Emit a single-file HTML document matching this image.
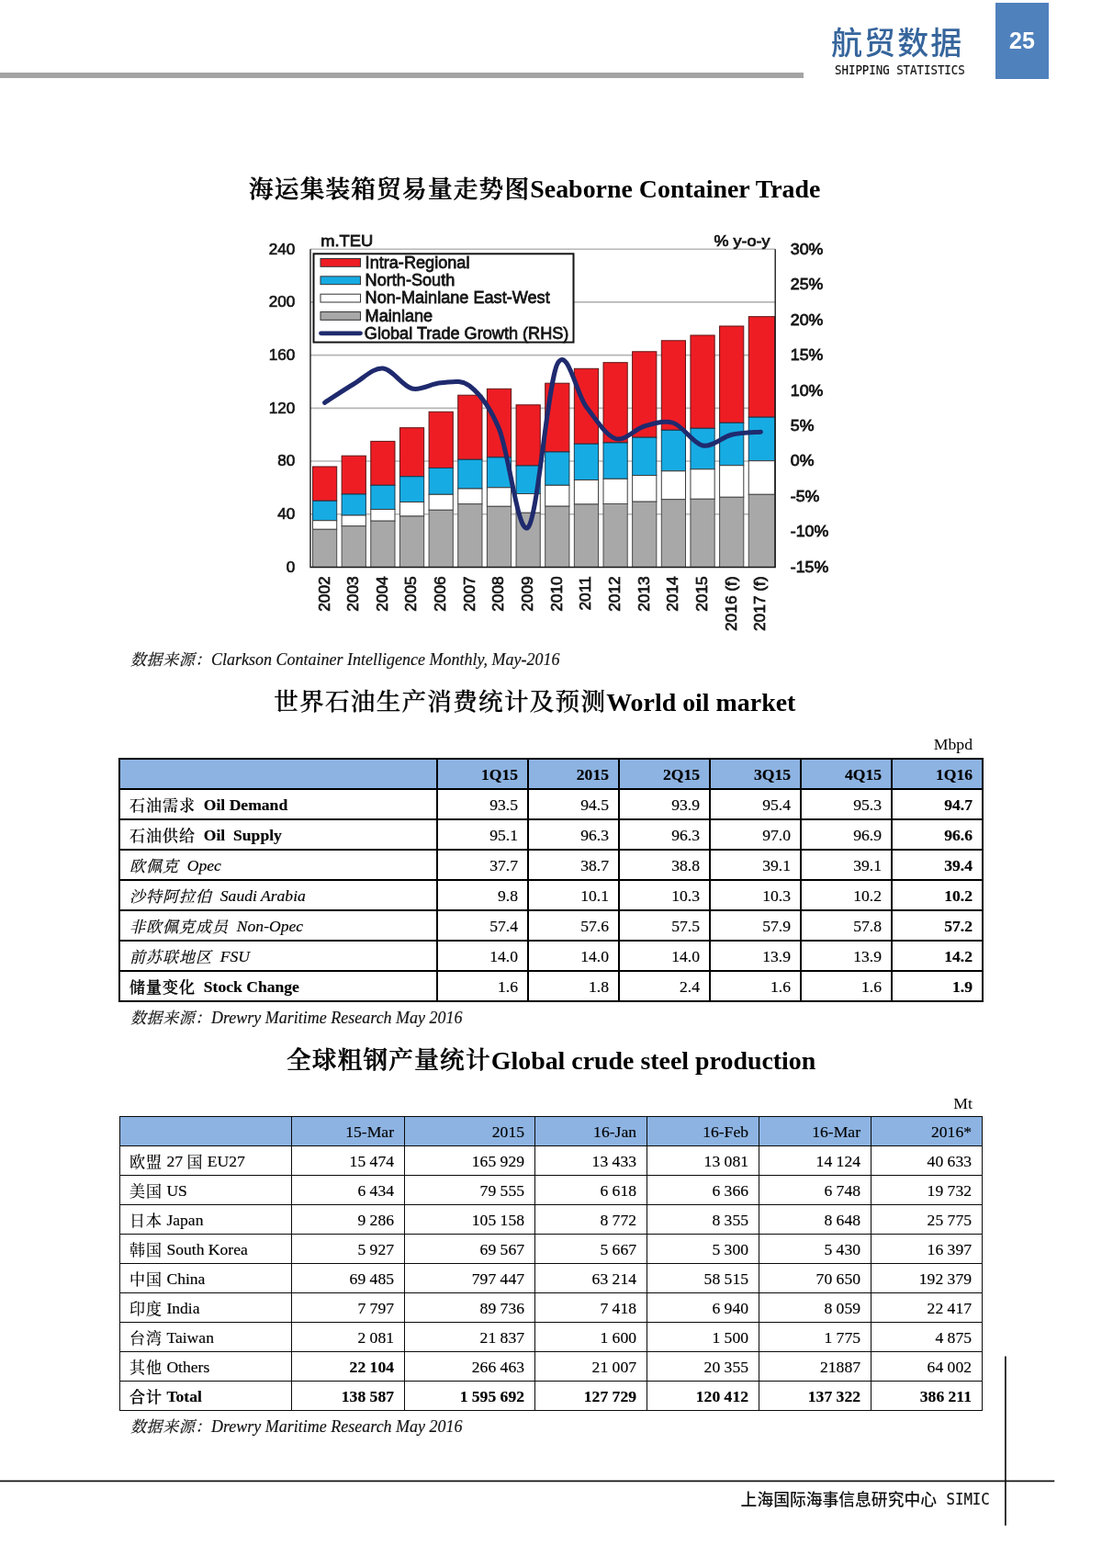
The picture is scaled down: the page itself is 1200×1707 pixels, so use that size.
<!DOCTYPE html>
<html lang="zh-CN">
<head>
<meta charset="utf-8">
<title>航贸数据 SHIPPING STATISTICS</title>
<style>
html,body{margin:0;padding:0;background:#fff;}
body{width:1200px;height:1707px;position:relative;overflow:hidden;color:#000;
  font-family:"Liberation Serif","Noto Serif CJK SC",serif;}
.abs{position:absolute;white-space:nowrap;}
/* header */
#hbar{left:0;top:79px;width:875px;height:6px;background:#a4a4a4;}
#hcn{left:905px;top:24.5px;font:500 34px/44px "Liberation Sans","Noto Sans CJK SC",sans-serif;color:#36659c;letter-spacing:2.1px;}
#hen{left:909.2px;top:65.6px;font:14.9px/20px "DejaVu Sans Mono","Liberation Mono",monospace;color:#111;transform:scaleX(.832);transform-origin:0 0;-webkit-text-stroke:0.2px #111;}
#pgbox{left:1084px;top:3px;width:58px;height:83px;background:#4f81bd;}
#pgnum{left:1084px;top:29px;width:58px;text-align:center;font:bold 25px/30px "Liberation Sans",sans-serif;color:#fff;}
/* titles */
.title{font-weight:bold;font-size:27.9px;line-height:36px;
  font-family:"Liberation Serif","Noto Serif CJK SC",serif;}
.title .cn{font-weight:500;font-size:26.6px;letter-spacing:1.25px;position:relative;top:-1.2px;line-height:1;-webkit-text-stroke:0.3px #000;}
.title .cn.fb{font-weight:500;-webkit-text-stroke:0.65px #000;}
.src{left:142px;font-style:italic;font-size:18px;line-height:24px;color:#111;-webkit-text-stroke:0.15px #111;}
.src span{font-size:17px;letter-spacing:0.6px;line-height:1;}
.unit{font-size:17.7px;line-height:24px;text-align:right;width:200px;left:859px;}
/* tables */
table{position:absolute;border-collapse:collapse;table-layout:fixed;left:129px;}
td,th{padding:0 10px 0 0;text-align:right;font-weight:normal;font-size:17.6px;white-space:nowrap;overflow:hidden;-webkit-text-stroke:0.15px #000;}
.c{font-weight:500;}
.z{font-size:17px;letter-spacing:1px;position:relative;top:0.6px;line-height:1;}
.fb{-webkit-text-stroke:0.3px #000;}
td:first-child,th:first-child{text-align:left;padding:0 0 0 10px;}
#t1{top:825px;width:941px;}
#t1 td,#t1 th{border:2px solid #000;height:29px;line-height:29px;padding-top:2px;}
#t1 th{background:#8db3e2;font-weight:bold;}
#t1 td:last-child{font-weight:bold;}
#t1 tr.b td{font-weight:bold;}
#t1 tr.b td.n{font-weight:normal;}
#t1 tr.b td:last-child{font-weight:bold;}
#t1 tr.i td:first-child{font-style:italic;}
#t2{top:1215px;width:940px;left:130px;}
#t2 td,#t2 th{padding-right:11px;}
#t2 td,#t2 th{border:1px solid #0a0a0a;height:30px;line-height:30px;padding-top:1px;}
#t2 th{background:#8db3e2;}
#t2 .bb, #t2 tr.bb td{font-weight:bold;}
/* footer */
#flines{left:0;top:1470px;}
#ftxt{left:806.6px;top:1620.6px;font:500 17.8px/24px "Liberation Sans","Noto Sans CJK SC",sans-serif;color:#111;}
#ftxt span{display:inline-block;position:relative;top:-1px;left:1.2px;font:17.1px/24px "DejaVu Sans Mono","Liberation Mono",monospace;transform:scaleX(.92);transform-origin:0 50%;white-space:pre;-webkit-text-stroke:0.2px #111;}
</style>
</head>
<body>
<div class="abs" id="hbar"></div>
<div class="abs" id="hcn">航贸数据</div>
<div class="abs" id="hen">SHIPPING STATISTICS</div>
<div class="abs" id="pgbox"></div>
<div class="abs" id="pgnum">25</div>

<div class="abs title" style="left:271px;top:188px"><span class="cn fb" style="top:0.1px">海运集装箱贸易量走势图</span>Seaborne Container Trade</div>

<!--CHART-->
<svg class="abs" id="chart" style="left:240px;top:240px" width="700" height="460" viewBox="0 0 700 460" font-family="Liberation Sans, sans-serif">
<g stroke="#b6b6b6" stroke-width="1.6">
<line x1="98.0" y1="319.78" x2="604.2" y2="319.78"/>
<line x1="98.0" y1="262.07" x2="604.2" y2="262.07"/>
<line x1="98.0" y1="204.35" x2="604.2" y2="204.35"/>
<line x1="98.0" y1="146.63" x2="604.2" y2="146.63"/>
<line x1="98.0" y1="88.92" x2="604.2" y2="88.92"/>
<line x1="98.0" y1="31.2" x2="604.2" y2="31.2"/>
</g>
<g stroke-width="1">
<rect x="100.5" y="268" width="26.2" height="37.3" fill="#ee1d24" stroke="#5e1515"/>
<rect x="100.5" y="305.3" width="26.2" height="21.4" fill="#17abe3" stroke="#123c52"/>
<rect x="100.5" y="326.7" width="26.2" height="9.6" fill="#ffffff" stroke="#3c3c3c"/>
<rect x="100.5" y="336.3" width="26.2" height="41.2" fill="#a8a8a8" stroke="#4a4a4a"/>
<rect x="132.15" y="256.2" width="26.2" height="41.8" fill="#ee1d24" stroke="#5e1515"/>
<rect x="132.15" y="298" width="26.2" height="23" fill="#17abe3" stroke="#123c52"/>
<rect x="132.15" y="321" width="26.2" height="11.7" fill="#ffffff" stroke="#3c3c3c"/>
<rect x="132.15" y="332.7" width="26.2" height="44.8" fill="#a8a8a8" stroke="#4a4a4a"/>
<rect x="163.8" y="240.4" width="26.2" height="47.9" fill="#ee1d24" stroke="#5e1515"/>
<rect x="163.8" y="288.3" width="26.2" height="26.2" fill="#17abe3" stroke="#123c52"/>
<rect x="163.8" y="314.5" width="26.2" height="12.7" fill="#ffffff" stroke="#3c3c3c"/>
<rect x="163.8" y="327.2" width="26.2" height="50.3" fill="#a8a8a8" stroke="#4a4a4a"/>
<rect x="195.45" y="225.7" width="26.2" height="53.1" fill="#ee1d24" stroke="#5e1515"/>
<rect x="195.45" y="278.8" width="26.2" height="27.7" fill="#17abe3" stroke="#123c52"/>
<rect x="195.45" y="306.5" width="26.2" height="15.5" fill="#ffffff" stroke="#3c3c3c"/>
<rect x="195.45" y="322" width="26.2" height="55.5" fill="#a8a8a8" stroke="#4a4a4a"/>
<rect x="227.1" y="208.3" width="26.2" height="61.2" fill="#ee1d24" stroke="#5e1515"/>
<rect x="227.1" y="269.5" width="26.2" height="28.8" fill="#17abe3" stroke="#123c52"/>
<rect x="227.1" y="298.3" width="26.2" height="17.0" fill="#ffffff" stroke="#3c3c3c"/>
<rect x="227.1" y="315.3" width="26.2" height="62.2" fill="#a8a8a8" stroke="#4a4a4a"/>
<rect x="258.75" y="190.2" width="26.2" height="70.1" fill="#ee1d24" stroke="#5e1515"/>
<rect x="258.75" y="260.3" width="26.2" height="31.7" fill="#17abe3" stroke="#123c52"/>
<rect x="258.75" y="292" width="26.2" height="16.7" fill="#ffffff" stroke="#3c3c3c"/>
<rect x="258.75" y="308.7" width="26.2" height="68.8" fill="#a8a8a8" stroke="#4a4a4a"/>
<rect x="290.4" y="183.3" width="26.2" height="74.6" fill="#ee1d24" stroke="#5e1515"/>
<rect x="290.4" y="257.9" width="26.2" height="32.9" fill="#17abe3" stroke="#123c52"/>
<rect x="290.4" y="290.8" width="26.2" height="20.5" fill="#ffffff" stroke="#3c3c3c"/>
<rect x="290.4" y="311.3" width="26.2" height="66.2" fill="#a8a8a8" stroke="#4a4a4a"/>
<rect x="322.05" y="200.8" width="26.2" height="66.2" fill="#ee1d24" stroke="#5e1515"/>
<rect x="322.05" y="267" width="26.2" height="30.5" fill="#17abe3" stroke="#123c52"/>
<rect x="322.05" y="297.5" width="26.2" height="20.8" fill="#ffffff" stroke="#3c3c3c"/>
<rect x="322.05" y="318.3" width="26.2" height="59.2" fill="#a8a8a8" stroke="#4a4a4a"/>
<rect x="353.7" y="177.2" width="26.2" height="74.8" fill="#ee1d24" stroke="#5e1515"/>
<rect x="353.7" y="252" width="26.2" height="36.3" fill="#17abe3" stroke="#123c52"/>
<rect x="353.7" y="288.3" width="26.2" height="22.9" fill="#ffffff" stroke="#3c3c3c"/>
<rect x="353.7" y="311.2" width="26.2" height="66.3" fill="#a8a8a8" stroke="#4a4a4a"/>
<rect x="385.35" y="161.3" width="26.2" height="82.0" fill="#ee1d24" stroke="#5e1515"/>
<rect x="385.35" y="243.3" width="26.2" height="39.2" fill="#17abe3" stroke="#123c52"/>
<rect x="385.35" y="282.5" width="26.2" height="26.5" fill="#ffffff" stroke="#3c3c3c"/>
<rect x="385.35" y="309" width="26.2" height="68.5" fill="#a8a8a8" stroke="#4a4a4a"/>
<rect x="417.0" y="154.7" width="26.2" height="87.3" fill="#ee1d24" stroke="#5e1515"/>
<rect x="417.0" y="242" width="26.2" height="39.3" fill="#17abe3" stroke="#123c52"/>
<rect x="417.0" y="281.3" width="26.2" height="27.2" fill="#ffffff" stroke="#3c3c3c"/>
<rect x="417.0" y="308.5" width="26.2" height="69.0" fill="#a8a8a8" stroke="#4a4a4a"/>
<rect x="448.65" y="142.8" width="26.2" height="93.4" fill="#ee1d24" stroke="#5e1515"/>
<rect x="448.65" y="236.2" width="26.2" height="41.3" fill="#17abe3" stroke="#123c52"/>
<rect x="448.65" y="277.5" width="26.2" height="28.7" fill="#ffffff" stroke="#3c3c3c"/>
<rect x="448.65" y="306.2" width="26.2" height="71.3" fill="#a8a8a8" stroke="#4a4a4a"/>
<rect x="480.3" y="130.8" width="26.2" height="97.5" fill="#ee1d24" stroke="#5e1515"/>
<rect x="480.3" y="228.3" width="26.2" height="44.5" fill="#17abe3" stroke="#123c52"/>
<rect x="480.3" y="272.8" width="26.2" height="30.9" fill="#ffffff" stroke="#3c3c3c"/>
<rect x="480.3" y="303.7" width="26.2" height="73.8" fill="#a8a8a8" stroke="#4a4a4a"/>
<rect x="511.95" y="125" width="26.2" height="101.3" fill="#ee1d24" stroke="#5e1515"/>
<rect x="511.95" y="226.3" width="26.2" height="44.5" fill="#17abe3" stroke="#123c52"/>
<rect x="511.95" y="270.8" width="26.2" height="32.5" fill="#ffffff" stroke="#3c3c3c"/>
<rect x="511.95" y="303.3" width="26.2" height="74.2" fill="#a8a8a8" stroke="#4a4a4a"/>
<rect x="543.6" y="115" width="26.2" height="105.3" fill="#ee1d24" stroke="#5e1515"/>
<rect x="543.6" y="220.3" width="26.2" height="46.4" fill="#17abe3" stroke="#123c52"/>
<rect x="543.6" y="266.7" width="26.2" height="34.6" fill="#ffffff" stroke="#3c3c3c"/>
<rect x="543.6" y="301.3" width="26.2" height="76.2" fill="#a8a8a8" stroke="#4a4a4a"/>
<rect x="575.25" y="104.7" width="28.35" height="109.5" fill="#ee1d24" stroke="#5e1515"/>
<rect x="575.25" y="214.2" width="28.35" height="47.5" fill="#17abe3" stroke="#123c52"/>
<rect x="575.25" y="261.7" width="28.35" height="36.6" fill="#ffffff" stroke="#3c3c3c"/>
<rect x="575.25" y="298.3" width="28.35" height="79.2" fill="#a8a8a8" stroke="#4a4a4a"/>
</g>
<path d="M98.0 31.2V377.5H604.2V31.2" fill="none" stroke="#151515" stroke-width="1.35"/>
<path d="M113.6 198.3C118.88 194.92 134.7 184.22 145.25 178C155.8 171.78 166.35 160.17 176.9 161C187.45 161.83 198.0 180.37 208.55 183C219.1 185.63 229.65 177.22 240.2 176.8C250.75 176.38 261.3 172.13 271.85 180.5C282.4 188.87 292.95 201.42 303.5 227C314.05 252.58 324.6 345.75 335.15 334C345.7 322.25 356.25 178.33 366.8 156.5C377.35 134.67 387.9 189.5 398.45 203C409.0 216.5 419.55 234.0 430.1 237.5C440.65 241.0 451.2 226.83 461.75 224C472.3 221.17 482.85 217.0 493.4 220.5C503.95 224.0 514.5 242.87 525.05 245C535.6 247.13 546.15 235.77 556.7 233.3C567.25 230.83 583.08 230.72 588.35 230.2" fill="none" stroke="#1f2a6e" stroke-width="5" stroke-linecap="round" stroke-linejoin="round"/>
<rect x="101.5" y="36.3" width="283.0" height="96.3" fill="#fff" stroke="#151515" stroke-width="2"/>
<g fill="#141414" stroke="#141414">
<rect x="109" y="41.5" width="43.5" height="8.8" fill="#ee1d24" stroke="#333" stroke-width="1"/>
<text transform="translate(157.6 51.6) scale(1.03 1)" font-size="17.6" stroke-width="0.75">Intra-Regional</text>
<rect x="109" y="60.85" width="43.5" height="8.8" fill="#17abe3" stroke="#333" stroke-width="1"/>
<text transform="translate(157.6 70.95) scale(1.03 1)" font-size="17.6" stroke-width="0.75">North-South</text>
<rect x="109" y="80.2" width="43.5" height="8.8" fill="#ffffff" stroke="#333" stroke-width="1"/>
<text transform="translate(157.6 90.3) scale(1.03 1)" font-size="17.6" stroke-width="0.75">Non-Mainlane East-West</text>
<rect x="109" y="99.55" width="43.5" height="8.8" fill="#a8a8a8" stroke="#333" stroke-width="1"/>
<text transform="translate(157.6 109.65) scale(1.03 1)" font-size="17.6" stroke-width="0.75">Mainlane</text>
<line x1="109.5" y1="122.8" x2="152.5" y2="122.8" stroke="#1f2a6e" stroke-width="4.8" stroke-linecap="round"/>
<text transform="translate(156.8 129.0) scale(1.03 1)" font-size="17.6" stroke-width="0.75">Global Trade Growth (RHS)</text>
<text transform="translate(81.3 382.9) scale(1.1 1)" font-size="15.6" text-anchor="end" stroke-width="0.6">0</text>
<text transform="translate(81.3 325.18) scale(1.1 1)" font-size="15.6" text-anchor="end" stroke-width="0.6">40</text>
<text transform="translate(81.3 267.47) scale(1.1 1)" font-size="15.6" text-anchor="end" stroke-width="0.6">80</text>
<text transform="translate(81.3 209.75) scale(1.1 1)" font-size="15.6" text-anchor="end" stroke-width="0.6">120</text>
<text transform="translate(81.3 152.03) scale(1.1 1)" font-size="15.6" text-anchor="end" stroke-width="0.6">160</text>
<text transform="translate(81.3 94.32) scale(1.1 1)" font-size="15.6" text-anchor="end" stroke-width="0.6">200</text>
<text transform="translate(81.3 36.6) scale(1.1 1)" font-size="15.6" text-anchor="end" stroke-width="0.6">240</text>
<text transform="translate(620.8 382.9) scale(1.14 1)" font-size="15.6" stroke-width="0.75">-15%</text>
<text transform="translate(620.8 344.42) scale(1.14 1)" font-size="15.6" stroke-width="0.75">-10%</text>
<text transform="translate(620.8 305.94) scale(1.14 1)" font-size="15.6" stroke-width="0.75">-5%</text>
<text transform="translate(620.8 267.47) scale(1.14 1)" font-size="15.6" stroke-width="0.75">0%</text>
<text transform="translate(620.8 228.99) scale(1.14 1)" font-size="15.6" stroke-width="0.75">5%</text>
<text transform="translate(620.8 190.51) scale(1.14 1)" font-size="15.6" stroke-width="0.75">10%</text>
<text transform="translate(620.8 152.03) scale(1.14 1)" font-size="15.6" stroke-width="0.75">15%</text>
<text transform="translate(620.8 113.56) scale(1.14 1)" font-size="15.6" stroke-width="0.75">20%</text>
<text transform="translate(620.8 75.08) scale(1.14 1)" font-size="15.6" stroke-width="0.75">25%</text>
<text transform="translate(620.8 36.6) scale(1.14 1)" font-size="15.6" stroke-width="0.75">30%</text>
<text transform="translate(109.2 28.0) scale(1.08 1)" font-size="17" stroke-width="0.75">m.TEU</text>
<text transform="translate(598.5 28.0) scale(1.1 1)" font-size="16.4" text-anchor="end" stroke-width="0.75">% y-o-y</text>
<text transform="translate(118.5 387.3) rotate(-90) scale(1.02 1)" font-size="17" text-anchor="end" stroke-width="0.7">2002</text>
<text transform="translate(150.15 387.3) rotate(-90) scale(1.02 1)" font-size="17" text-anchor="end" stroke-width="0.7">2003</text>
<text transform="translate(181.8 387.3) rotate(-90) scale(1.02 1)" font-size="17" text-anchor="end" stroke-width="0.7">2004</text>
<text transform="translate(213.45 387.3) rotate(-90) scale(1.02 1)" font-size="17" text-anchor="end" stroke-width="0.7">2005</text>
<text transform="translate(245.1 387.3) rotate(-90) scale(1.02 1)" font-size="17" text-anchor="end" stroke-width="0.7">2006</text>
<text transform="translate(276.75 387.3) rotate(-90) scale(1.02 1)" font-size="17" text-anchor="end" stroke-width="0.7">2007</text>
<text transform="translate(308.4 387.3) rotate(-90) scale(1.02 1)" font-size="17" text-anchor="end" stroke-width="0.7">2008</text>
<text transform="translate(340.05 387.3) rotate(-90) scale(1.02 1)" font-size="17" text-anchor="end" stroke-width="0.7">2009</text>
<text transform="translate(371.7 387.3) rotate(-90) scale(1.02 1)" font-size="17" text-anchor="end" stroke-width="0.7">2010</text>
<text transform="translate(403.35 387.3) rotate(-90) scale(1.02 1)" font-size="17" text-anchor="end" stroke-width="0.7">2011</text>
<text transform="translate(435.0 387.3) rotate(-90) scale(1.02 1)" font-size="17" text-anchor="end" stroke-width="0.7">2012</text>
<text transform="translate(466.65 387.3) rotate(-90) scale(1.02 1)" font-size="17" text-anchor="end" stroke-width="0.7">2013</text>
<text transform="translate(498.3 387.3) rotate(-90) scale(1.02 1)" font-size="17" text-anchor="end" stroke-width="0.7">2014</text>
<text transform="translate(529.95 387.3) rotate(-90) scale(1.02 1)" font-size="17" text-anchor="end" stroke-width="0.7">2015</text>
<text transform="translate(561.6 387.3) rotate(-90) scale(1.02 1)" font-size="17" text-anchor="end" stroke-width="0.7">2016 (f)</text>
<text transform="translate(593.25 387.3) rotate(-90) scale(1.02 1)" font-size="17" text-anchor="end" stroke-width="0.7">2017 (f)</text>
</g>
</svg>
<!--/CHART-->

<div class="abs src" style="top:706px"><span>数据来源：</span>Clarkson Container Intelligence Monthly, May-2016</div>
<div class="abs title" style="left:298.3px;top:747px"><span class="cn">世界石油生产消费统计及预测</span>World oil market</div>
<div class="abs unit" style="top:798px">Mbpd</div>

<table id="t1">
<colgroup><col style="width:346px"><col style="width:99px"><col style="width:99px"><col style="width:99px"><col style="width:99px"><col style="width:99px"><col style="width:99px"></colgroup>
<tr><th></th><th>1Q15</th><th>2015</th><th>2Q15</th><th>3Q15</th><th>4Q15</th><th>1Q16</th></tr>
<tr class="b"><td><span class="c z">石油需求</span>&nbsp; Oil Demand</td><td class="n">93.5</td><td class="n">94.5</td><td class="n">93.9</td><td class="n">95.4</td><td class="n">95.3</td><td>94.7</td></tr>
<tr class="b"><td><span class="c z">石油供给</span>&nbsp; Oil&nbsp; Supply</td><td class="n">95.1</td><td class="n">96.3</td><td class="n">96.3</td><td class="n">97.0</td><td class="n">96.9</td><td>96.6</td></tr>
<tr class="i"><td><span class="z">欧佩克</span>&nbsp; Opec</td><td>37.7</td><td>38.7</td><td>38.8</td><td>39.1</td><td>39.1</td><td>39.4</td></tr>
<tr class="i"><td><span class="z">沙特阿拉伯</span>&nbsp; Saudi Arabia</td><td>9.8</td><td>10.1</td><td>10.3</td><td>10.3</td><td>10.2</td><td>10.2</td></tr>
<tr class="i"><td><span class="z">非欧佩克成员</span>&nbsp; Non-Opec</td><td>57.4</td><td>57.6</td><td>57.5</td><td>57.9</td><td>57.8</td><td>57.2</td></tr>
<tr class="i"><td><span class="z">前苏联地区</span>&nbsp; FSU</td><td>14.0</td><td>14.0</td><td>14.0</td><td>13.9</td><td>13.9</td><td>14.2</td></tr>
<tr class="b"><td><span class="c z fb">储量变化</span>&nbsp; Stock Change</td><td class="n">1.6</td><td class="n">1.8</td><td class="n">2.4</td><td class="n">1.6</td><td class="n">1.6</td><td>1.9</td></tr>
</table>

<div class="abs src" style="top:1096px"><span>数据来源：</span>Drewry Maritime Research May 2016</div>
<div class="abs title" style="left:312px;top:1137px"><span class="cn fb">全球粗钢产量统计</span>Global crude steel production</div>
<div class="abs unit" style="top:1189px">Mt</div>

<table id="t2">
<colgroup><col style="width:187px"><col style="width:123px"><col style="width:142px"><col style="width:122px"><col style="width:122px"><col style="width:122px"><col style="width:121px"></colgroup>
<tr><th></th><th>15-Mar</th><th>2015</th><th>16-Jan</th><th>16-Feb</th><th>16-Mar</th><th>2016*</th></tr>
<tr><td><span class="z">欧盟</span> 27 <span class="z">国</span> EU27</td><td>15 474</td><td>165 929</td><td>13 433</td><td>13 081</td><td>14 124</td><td>40 633</td></tr>
<tr><td><span class="z">美国</span> US</td><td>6 434</td><td>79 555</td><td>6 618</td><td>6 366</td><td>6 748</td><td>19 732</td></tr>
<tr><td><span class="z">日本</span> Japan</td><td>9 286</td><td>105 158</td><td>8 772</td><td>8 355</td><td>8 648</td><td>25 775</td></tr>
<tr><td><span class="z">韩国</span> South Korea</td><td>5 927</td><td>69 567</td><td>5 667</td><td>5 300</td><td>5 430</td><td>16 397</td></tr>
<tr><td><span class="z">中国</span> China</td><td>69 485</td><td>797 447</td><td>63 214</td><td>58 515</td><td>70 650</td><td>192 379</td></tr>
<tr><td><span class="z">印度</span> India</td><td>7 797</td><td>89 736</td><td>7 418</td><td>6 940</td><td>8 059</td><td>22 417</td></tr>
<tr><td><span class="z">台湾</span> Taiwan</td><td>2 081</td><td>21 837</td><td>1 600</td><td>1 500</td><td>1 775</td><td>4 875</td></tr>
<tr><td><span class="z">其他</span> Others</td><td class="bb">22 104</td><td>266 463</td><td>21 007</td><td>20 355</td><td>21887</td><td>64 002</td></tr>
<tr class="bb"><td><span class="c z fb">合计</span> Total</td><td>138 587</td><td>1 595 692</td><td>127 729</td><td>120 412</td><td>137 322</td><td>386 211</td></tr>
</table>

<div class="abs src" style="top:1541px"><span>数据来源：</span>Drewry Maritime Research May 2016</div>

<svg class="abs" id="flines" width="1200" height="200" viewBox="0 0 1200 200"><path d="M0 142.4H1148.3M1094.9 6.5V190.8" fill="none" stroke="#151515" stroke-width="1.7"/></svg>
<div class="abs" id="ftxt">上海国际海事信息研究中心<span> SIMIC</span></div>
</body>
</html>
